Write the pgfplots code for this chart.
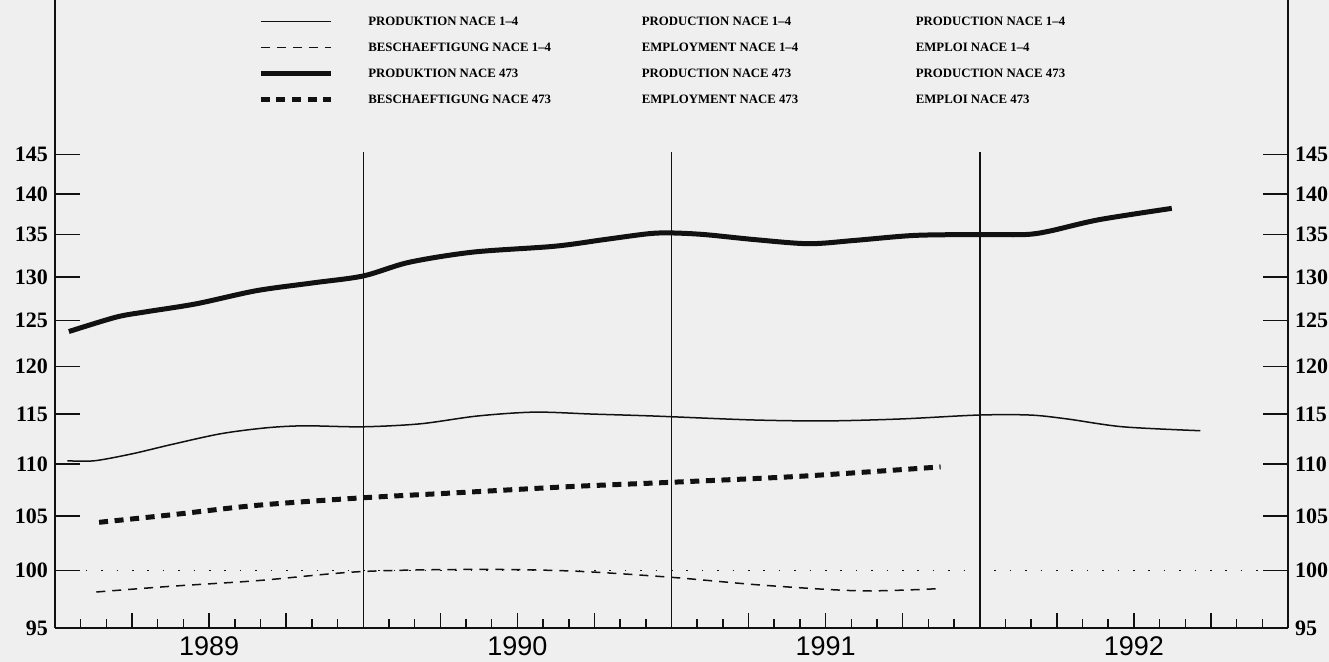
\documentclass[border=0pt]{standalone}
\usepackage{fontspec}
\setmainfont{Liberation Serif}
\newfontfamily\yearfont{Liberation Sans}
\usepackage{pgfplots}
\pgfplotsset{compat=1.18}
\definecolor{paper}{HTML}{EFEFEF}
\definecolor{ink}{HTML}{111111}

\newcommand{\legrow}[3]{\makebox[136.75pt][l]{#1}\makebox[137pt][l]{#2}#3}

\begin{document}
\begin{tikzpicture}
\fill[paper] (-27.5pt,-17pt) rectangle (637pt,314pt);

\begin{axis}[scale only axis, width=616.5pt, height=314pt,
  xmin=1989, xmax=1993, ymode=log, ymin=95, ymax=166.5,
  tick align=inside,
  axis line style={ink, line width=0.9pt},
  every tick/.append style={ink, line width=0.75pt},
  axis x line*=bottom, axis y line=none,
  xtick={1989.25,1989.5,1989.75,1990.25,1990.5,1990.75,1991.25,1991.5,1991.75,1992.25,1992.5,1992.75},
  xticklabels={,1989,,,1990,,,1991,,,1992,},
  minor xtick={1989.0833,1989.1667,1989.3333,1989.4167,1989.5833,1989.6667,1989.8333,1989.9167,
    1990.0833,1990.1667,1990.3333,1990.4167,1990.5833,1990.6667,1990.8333,1990.9167,
    1991.0833,1991.1667,1991.3333,1991.4167,1991.5833,1991.6667,1991.8333,1991.9167,
    1992.0833,1992.1667,1992.3333,1992.4167,1992.5833,1992.6667,1992.8333,1992.9167},
  major tick length=7.5pt, minor tick length=4.5pt,
  xticklabel style={font=\yearfont\fontsize{13.5}{14}\selectfont, yshift=-1pt},
  legend image code/.code={\draw[#1] (0pt,0pt) -- (35pt,0pt);},
  legend style={draw=none, fill=none, at={(0.1646,0.973)}, anchor=north west,
    inner sep=0pt, row sep=8.8pt, column sep=17.5pt,
    nodes={inner sep=0pt, text height=4.2pt, text depth=0pt,
      font=\bfseries\fontsize{6.4}{7}\selectfont}},
  legend cell align=left,
]
% year separators and the 100 reference line
\draw[ink, line width=0.75pt] (axis cs:1990,95) -- (axis cs:1990,145.4);
\draw[ink, line width=0.75pt] (axis cs:1991,95) -- (axis cs:1991,145.4);
\draw[ink, line width=0.75pt] (axis cs:1992,95) -- (axis cs:1992,145.4);
\addplot[forget plot, ink, line width=0.8pt, dash pattern=on 0.8pt off 6.9pt]
  coordinates {(1989,100) (1993,100)};

\addplot[ink, line width=0.75pt, smooth, tension=0.5] coordinates {
 (1989.040,110.3) (1989.128,110.3) (1989.252,111.0) (1989.376,111.9)
 (1989.538,113.0) (1989.687,113.6) (1989.811,113.8) (1989.997,113.7)
 (1990.184,114.0) (1990.370,114.8) (1990.555,115.2) (1990.743,115.0)
 (1990.942,114.8) (1991.263,114.4) (1991.503,114.3) (1991.744,114.5)
 (1991.996,114.9) (1992.164,114.9) (1992.284,114.5) (1992.464,113.7)
 (1992.716,113.3)};
\addlegendentry{\legrow{PRODUKTION NACE 1--4}{PRODUCTION NACE 1--4}{PRODUCTION NACE 1--4}}

\addplot[ink, line width=0.75pt, dash pattern=on 4.5pt off 3.5pt, smooth, tension=0.5] coordinates {
 (1989.134,98.1) (1989.376,98.6) (1989.656,99.1) (1989.990,99.9)
 (1990.364,100.1) (1990.681,99.95) (1990.997,99.4) (1991.295,98.7)
 (1991.613,98.2) (1991.873,98.4)};
\addlegendentry{\legrow{BESCHAEFTIGUNG NACE 1--4}{EMPLOYMENT NACE 1--4}{EMPLOI NACE 1--4}}

\addplot[ink, line width=2.5pt, smooth, tension=0.5] coordinates {
 (1989.045,123.8) (1989.198,125.4) (1989.295,126.0) (1989.458,126.9)
 (1989.653,128.4) (1989.837,129.3) (1990.000,130.1) (1990.149,131.7)
 (1990.356,132.9) (1990.620,133.6) (1990.782,134.4) (1990.925,135.1)
 (1991.000,135.2) (1991.107,135.0) (1991.269,134.4) (1991.445,133.9)
 (1991.594,134.3) (1991.789,134.9) (1991.997,135.0) (1992.146,135.0)
 (1992.224,135.4) (1992.386,136.8) (1992.623,138.2)};
\addlegendentry{\legrow{PRODUKTION NACE 473}{PRODUCTION NACE 473}{PRODUCTION NACE 473}}

\addplot[ink, line width=2.5pt, dash pattern=on 4.5pt off 3.3pt, smooth, tension=0.5] coordinates {
 (1989.143,104.4) (1989.376,105.1) (1989.656,106.0) (1989.990,106.7)
 (1990.308,107.2) (1990.681,107.8) (1990.997,108.2) (1991.426,108.8)
 (1991.873,109.7)};
\addlegendentry{\legrow{BESCHAEFTIGUNG NACE 473}{EMPLOYMENT NACE 473}{EMPLOI NACE 473}}
\end{axis}

% left value scale
\begin{axis}[scale only axis, width=616.5pt, height=314pt,
  xmin=1989, xmax=1993, ymode=log, ymin=95, ymax=166.5,
  tick align=inside, axis line style={ink, line width=0.9pt},
  every tick/.append style={ink, line width=0.75pt},
  axis x line=none, xtick=\empty, axis y line*=left,
  ytick={95,100,105,110,115,120,125,130,135,140,145},
  yticklabels={95,100,105,110,115,120,125,130,135,140,145},
  major tick length=12.5pt,
  yticklabel style={font=\bfseries\fontsize{11}{11}\selectfont}]
\end{axis}
% right value scale
\begin{axis}[scale only axis, width=616.5pt, height=314pt,
  xmin=1989, xmax=1993, ymode=log, ymin=95, ymax=166.5,
  tick align=inside, axis line style={ink, line width=0.9pt},
  every tick/.append style={ink, line width=0.75pt},
  axis x line=none, xtick=\empty, axis y line*=right,
  ytick={95,100,105,110,115,120,125,130,135,140,145},
  yticklabels={95,100,105,110,115,120,125,130,135,140,145},
  major tick length=12.5pt, yticklabel pos=right,
  yticklabel style={font=\bfseries\fontsize{11}{11}\selectfont}]
\end{axis}

\pgfresetboundingbox
\useasboundingbox (-27.5pt,-17pt) rectangle (637pt,314pt);
\end{tikzpicture}
\end{document}
